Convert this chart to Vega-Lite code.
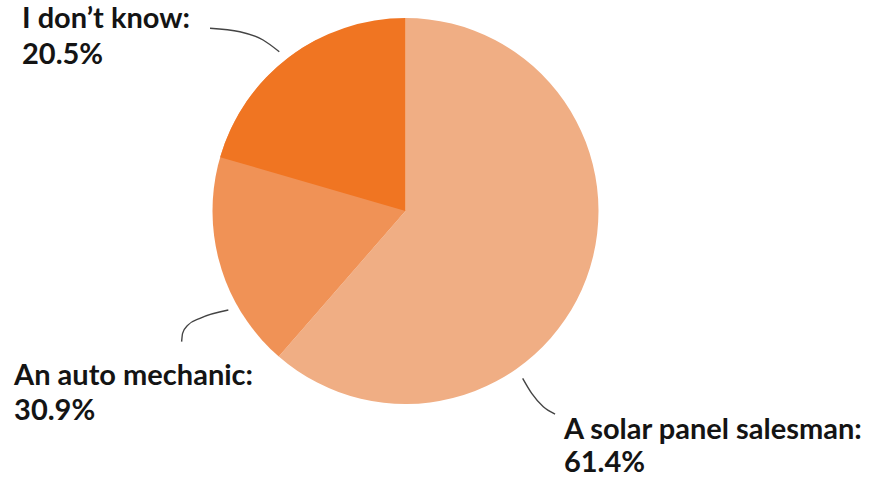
{
  "$schema": "https://vega.github.io/schema/vega-lite/v6.json",
  "width": 386,
  "height": 386,
  "autosize": "none",
  "padding": {"left": 212.5, "top": 18, "right": 287.5, "bottom": 74},
  "background": "white",
  "config": {"view": {"stroke": null}},
  "datasets": {
    "answers": [
      {"answer": "A solar panel salesman", "share": 61.4, "rank": 1},
      {"answer": "An auto mechanic", "share": 30.9, "rank": 2},
      {"answer": "I don’t know", "share": 20.5, "rank": 3}
    ],
    "labels": [
      {"answer": "I don’t know", "line": 1, "caption": "I don’t know:", "px": -1.987, "py": 0.947},
      {"answer": "I don’t know", "line": 2, "caption": "20.5%", "px": -1.987, "py": 0.760},
      {"answer": "An auto mechanic", "line": 1, "caption": "An auto mechanic:", "px": -2.028, "py": -0.902},
      {"answer": "An auto mechanic", "line": 2, "caption": "30.9%", "px": -2.028, "py": -1.083},
      {"answer": "A solar panel salesman", "line": 1, "caption": "A solar panel salesman:", "px": 0.821, "py": -1.181},
      {"answer": "A solar panel salesman", "line": 2, "caption": "61.4%", "px": 0.821, "py": -1.354}
    ],
    "leaders": [
      {"answer": "I don’t know", "i": 1, "px": -1.013, "py": 0.947},
      {"answer": "I don’t know", "i": 2, "px": -0.858, "py": 0.929},
      {"answer": "I don’t know", "i": 3, "px": -0.738, "py": 0.886},
      {"answer": "I don’t know", "i": 4, "px": -0.654, "py": 0.825},
      {"answer": "An auto mechanic", "i": 1, "px": -1.160, "py": -0.677},
      {"answer": "An auto mechanic", "i": 2, "px": -1.155, "py": -0.634},
      {"answer": "An auto mechanic", "i": 3, "px": -1.126, "py": -0.590},
      {"answer": "An auto mechanic", "i": 4, "px": -1.065, "py": -0.556},
      {"answer": "An auto mechanic", "i": 5, "px": -0.918, "py": -0.513},
      {"answer": "A solar panel salesman", "i": 1, "px": 0.607, "py": -0.867},
      {"answer": "A solar panel salesman", "i": 2, "px": 0.654, "py": -0.945},
      {"answer": "A solar panel salesman", "i": 3, "px": 0.714, "py": -1.014},
      {"answer": "A solar panel salesman", "i": 4, "px": 0.775, "py": -1.052}
    ]
  },
  "layer": [
    {
      "description": "Salesman and mechanic slices, stacked clockwise from twelve o'clock on a 0-100 percent scale",
      "data": {"name": "answers"},
      "transform": [{"filter": "datum.rank < 3"}],
      "mark": {"type": "arc"},
      "encoding": {
        "theta": {"field": "share", "type": "quantitative", "stack": true, "scale": {"domain": [0, 100]}},
        "order": {"field": "rank", "type": "quantitative"},
        "color": {
          "field": "answer",
          "type": "nominal",
          "scale": {
            "domain": ["A solar panel salesman", "An auto mechanic", "I don’t know"],
            "range": ["#F0AE84", "#F09256", "#F07522"]
          },
          "legend": null
        }
      }
    },
    {
      "description": "The 'I don't know' slice, measured back counter-clockwise from twelve o'clock",
      "data": {"name": "answers"},
      "transform": [{"filter": "datum.rank == 3"}],
      "mark": {"type": "arc"},
      "encoding": {
        "theta": {"field": "share", "type": "quantitative", "stack": true, "scale": {"domain": [0, 100], "range": [6.283185307179586, 0]}},
        "color": {
          "field": "answer",
          "type": "nominal",
          "scale": {
            "domain": ["A solar panel salesman", "An auto mechanic", "I don’t know"],
            "range": ["#F0AE84", "#F09256", "#F07522"]
          },
          "legend": null
        }
      }
    },
    {
      "description": "Curved leader lines, in units of the pie radius from its centre",
      "data": {"name": "leaders"},
      "mark": {"type": "line", "interpolate": "monotone", "color": "#444444", "strokeWidth": 1.4},
      "encoding": {
        "x": {"field": "px", "type": "quantitative", "scale": {"domain": [-1, 1]}, "axis": null},
        "y": {"field": "py", "type": "quantitative", "scale": {"domain": [-1, 1]}, "axis": null},
        "detail": {"field": "answer"},
        "order": {"field": "i", "type": "quantitative"}
      }
    },
    {
      "description": "Answer captions with their percentages, one row per text line",
      "data": {"name": "labels"},
      "mark": {
        "type": "text",
        "align": "left",
        "baseline": "alphabetic",
        "font": "Lato",
        "fontSize": 29,
        "fontWeight": "bold",
        "color": "#141414"
      },
      "encoding": {
        "x": {"field": "px", "type": "quantitative", "scale": {"domain": [-1, 1]}, "axis": null},
        "y": {"field": "py", "type": "quantitative", "scale": {"domain": [-1, 1]}, "axis": null},
        "text": {"field": "caption"}
      }
    }
  ],
  "resolve": {"scale": {"theta": "independent"}}
}
